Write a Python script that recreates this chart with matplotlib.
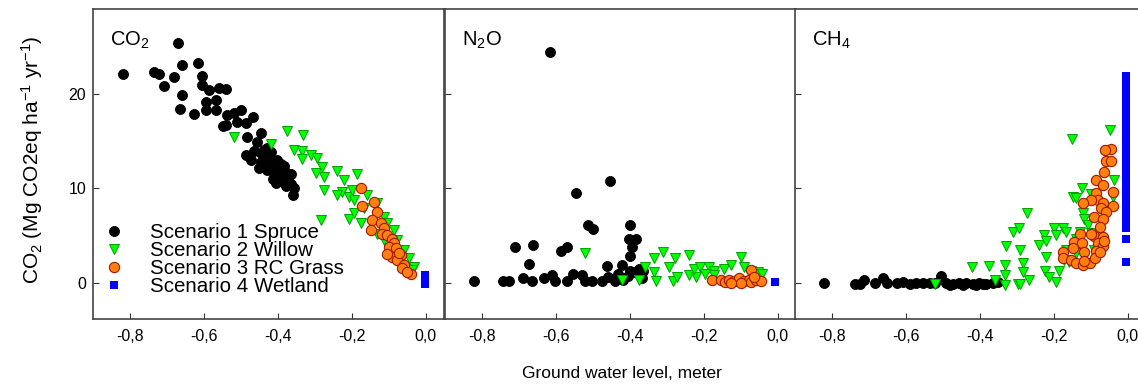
"""Greenhouse gas emissions vs ground water level, three gases side by side."""
import matplotlib.pyplot as plt

plt.rcParams["font.family"] = ["Liberation Sans", "DejaVu Sans"]
plt.rcParams["mathtext.fontset"] = "custom"
plt.rcParams["mathtext.rm"] = "Liberation Sans"
plt.rcParams["mathtext.it"] = "Liberation Sans"

SCENARIOS = ["Scenario 1 Spruce", "Scenario 2 Willow",
             "Scenario 3 RC Grass", "Scenario 4 Wetland"]
PANELS = ["CO$_2$", "N$_2$O", "CH$_4$"]

# ---- CO2 panel ----
co2_spruce_x = [-0.821, -0.672, -0.737, -0.722, -0.710, -0.681, -0.661, -0.659,
                -0.665, -0.627, -0.616, -0.607, -0.605, -0.586, -0.595, -0.568,
                -0.595, -0.568, -0.559, -0.541, -0.537, -0.519, -0.501, -0.541,
                -0.510, -0.487, -0.469, -0.483, -0.447, -0.456, -0.487, -0.465,
                -0.447, -0.451, -0.438, -0.429, -0.420, -0.411, -0.402, -0.397,
                -0.384, -0.375, -0.393, -0.366, -0.357, -0.361, -0.379, -0.429,
                -0.411, -0.474, -0.438, -0.548, -0.420, -0.400, -0.385, -0.372,
                -0.445, -0.415, -0.392, -0.365, -0.430, -0.405]
co2_spruce_y = [22.1, 25.3, 22.3, 22.1, 20.8, 21.8, 23.0, 19.9,
                18.4, 17.8, 23.2, 21.9, 20.9, 20.4, 19.1, 19.3,
                18.3, 18.3, 20.6, 20.5, 17.7, 17.9, 18.3, 16.7,
                17.0, 16.9, 17.5, 15.4, 15.8, 14.9, 13.5, 13.9,
                13.7, 12.1, 13.0, 13.3, 12.6, 12.3, 13.0, 11.6,
                11.9, 11.2, 10.9, 10.5, 10.0, 9.3, 10.2, 11.9,
                11.6, 13.0, 14.0, 16.6, 13.8, 12.0, 12.4, 11.0,
                12.8, 11.0, 12.6, 11.5, 14.3, 10.6]
co2_willow_x = [-0.519, -0.420, -0.377, -0.332, -0.357, -0.334, -0.334, -0.312,
                -0.294, -0.280, -0.298, -0.276, -0.240, -0.222, -0.186, -0.276,
                -0.226, -0.240, -0.208, -0.199, -0.195, -0.159, -0.285, -0.208,
                -0.195, -0.168, -0.176, -0.132, -0.114, -0.105, -0.086, -0.078,
                -0.059, -0.046, -0.032, -0.037, -0.114, -0.132]
co2_willow_y = [15.4, 14.7, 16.0, 15.6, 14.0, 13.9, 13.1, 13.5,
                13.2, 12.3, 11.6, 11.2, 11.8, 10.9, 11.5, 9.8,
                9.6, 9.3, 9.1, 9.8, 8.8, 9.3, 6.7, 6.8,
                7.4, 7.9, 6.3, 8.4, 7.0, 6.3, 5.6, 4.5,
                3.5, 2.6, 1.7, 1.4, 4.5, 5.2]
co2_grass_x = [-0.176, -0.141, -0.172, -0.132, -0.145, -0.122, -0.149, -0.114,
               -0.118, -0.105, -0.091, -0.086, -0.100, -0.082, -0.091, -0.068,
               -0.078, -0.059, -0.064, -0.041, -0.050, -0.105, -0.073]
co2_grass_y = [10.0, 8.6, 8.1, 7.5, 6.7, 6.3, 5.6, 5.8,
               5.2, 5.1, 4.7, 4.2, 3.8, 3.7, 2.8, 3.0,
               2.4, 1.9, 1.6, 1.0, 1.2, 3.1, 3.2]
co2_wet_x = [-0.003, -0.003, -0.003, -0.003, -0.003]
co2_wet_y = [-0.1, 0.2, 0.4, 0.6, 0.8]

# ---- N2O panel ----
n2o_spruce_x = [-0.616, -0.453, -0.545, -0.512, -0.500, -0.399, -0.401, -0.382,
                -0.394, -0.710, -0.661, -0.587, -0.569, -0.673, -0.399, -0.462,
                -0.421, -0.400, -0.375, -0.822, -0.742, -0.728, -0.690, -0.665,
                -0.633, -0.609, -0.603, -0.571, -0.553, -0.530, -0.521, -0.503,
                -0.476, -0.458, -0.440, -0.431, -0.417, -0.404, -0.386, -0.368,
                -0.364]
n2o_spruce_y = [24.4, 10.8, 9.5, 6.1, 5.7, 6.1, 4.6, 4.7,
                3.8, 3.8, 4.0, 3.4, 3.8, 2.0, 2.9, 1.8,
                1.9, 1.3, 1.5, 0.2, 0.2, 0.2, 0.5, 0.2,
                0.5, 0.8, 0.2, 0.2, 1.0, 0.8, 0.2, 0.2,
                0.2, 0.6, 0.2, 1.0, 0.3, 0.7, 1.2, 0.5,
                1.3]
n2o_willow_x = [-0.521, -0.310, -0.335, -0.278, -0.240, -0.294, -0.358, -0.335,
                -0.421, -0.376, -0.328, -0.282, -0.273, -0.240, -0.222, -0.227,
                -0.209, -0.186, -0.195, -0.172, -0.145, -0.127, -0.098, -0.091,
                -0.072, -0.054, -0.041, -0.172]
n2o_willow_y = [3.2, 3.3, 2.6, 2.6, 3.0, 1.7, 1.7, 1.2,
                0.3, 0.3, 0.2, 0.2, 0.6, 0.9, 0.6, 1.5,
                1.7, 1.7, 1.0, 1.3, 1.5, 1.9, 2.7, 1.7,
                1.3, 1.2, 1.0, 0.8]
n2o_grass_x = [-0.177, -0.154, -0.141, -0.132, -0.118, -0.104, -0.091, -0.077,
               -0.072, -0.072, -0.059, -0.045, -0.100, -0.127, -0.063]
n2o_grass_y = [0.3, 0.3, 0.1, 0.3, 0.2, 0.5, 0.2, 0.3,
               1.4, 0.1, 0.3, 0.2, 0.0, 0.0, 0.6]
n2o_wet_x = [-0.006]
n2o_wet_y = [0.1]

# ---- CH4 panel ----
ch4_spruce_x = [-0.822, -0.739, -0.712, -0.725, -0.684, -0.661, -0.652, -0.625,
                -0.607, -0.590, -0.572, -0.554, -0.536, -0.504, -0.491, -0.473,
                -0.455, -0.437, -0.419, -0.401, -0.383, -0.365, -0.351, -0.520,
                -0.480, -0.445, -0.410, -0.390]
ch4_spruce_y = [0.0, -0.1, 0.3, -0.1, 0.0, 0.5, 0.0, 0.0,
                0.1, -0.1, 0.0, 0.0, 0.0, 0.7, 0.0, -0.1,
                0.0, 0.0, -0.1, 0.0, -0.1, 0.0, 0.1, 0.0,
                -0.2, -0.2, -0.2, -0.1]
ch4_willow_x = [-0.520, -0.421, -0.376, -0.358, -0.333, -0.333, -0.333, -0.329,
                -0.309, -0.294, -0.273, -0.290, -0.284, -0.284, -0.297, -0.291,
                -0.266, -0.239, -0.225, -0.221, -0.224, -0.221, -0.212, -0.194,
                -0.198, -0.176, -0.194, -0.167, -0.185, -0.171, -0.167, -0.151,
                -0.149, -0.140, -0.123, -0.121, -0.117, -0.130, -0.108, -0.099,
                -0.099, -0.140, -0.140, -0.158, -0.048, -0.036, -0.040, -0.090]
ch4_willow_y = [-0.1, 1.7, 1.8, 0.3, 1.9, 0.8, -0.2, 3.9,
                5.4, 5.8, 7.4, 3.5, 2.1, 1.2, -0.1, -0.1,
                0.3, 4.0, 5.1, 4.4, 1.3, 2.7, 0.6, 0.1,
                5.8, 5.8, 5.1, 5.4, 1.3, 2.4, 3.5, 15.2,
                9.1, 9.0, 10.0, 7.4, 6.8, 5.4, 6.1, 5.3,
                9.4, 3.2, 4.6, 2.2, 16.2, 10.9, 9.1, 3.5]
ch4_grass_x = [-0.045, -0.060, -0.059, -0.045, -0.063, -0.085, -0.067, -0.085,
               -0.040, -0.081, -0.099, -0.121, -0.067, -0.040, -0.072, -0.058,
               -0.090, -0.067, -0.076, -0.090, -0.067, -0.099, -0.130, -0.144,
               -0.124, -0.081, -0.067, -0.148, -0.176, -0.117, -0.085, -0.176,
               -0.153, -0.139, -0.121, -0.103, -0.087, -0.076, -0.063, -0.117]
ch4_grass_y = [14.2, 14.0, 12.9, 12.9, 11.7, 10.9, 10.3, 9.5,
               9.6, 8.8, 8.8, 8.4, 8.5, 8.1, 7.9, 7.5,
               7.0, 6.8, 5.9, 5.0, 4.9, 5.2, 5.2, 4.3,
               4.2, 4.2, 3.9, 3.7, 3.3, 3.3, 3.4, 2.6,
               2.4, 2.1, 1.9, 2.1, 2.6, 3.3, 4.4, 2.3]
ch4_wet_y = [2.2, 4.6, 5.8, 6.3, 6.8, 7.2, 7.7, 8.2, 8.6, 9.1, 9.6, 10.0,
             10.5, 11.0, 11.4, 11.9, 12.4, 12.8, 13.3, 13.8, 14.2, 14.7,
             15.2, 15.6, 16.1, 16.6, 17.0, 17.5, 18.0, 18.4, 18.9, 19.4,
             19.8, 20.3, 20.8, 21.2, 21.7, 21.9]
ch4_wet_x = [-0.004] * len(ch4_wet_y)

DATA = [
    [(co2_spruce_x, co2_spruce_y), (co2_willow_x, co2_willow_y),
     (co2_grass_x, co2_grass_y), (co2_wet_x, co2_wet_y)],
    [(n2o_spruce_x, n2o_spruce_y), (n2o_willow_x, n2o_willow_y),
     (n2o_grass_x, n2o_grass_y), (n2o_wet_x, n2o_wet_y)],
    [(ch4_spruce_x, ch4_spruce_y), (ch4_willow_x, ch4_willow_y),
     (ch4_grass_x, ch4_grass_y), (ch4_wet_x, ch4_wet_y)],
]

STYLES = [
    dict(marker="o", ms=7.2, mfc="black", mec="black", mew=0.6),
    dict(marker="v", ms=7.5, mfc="#00ff00", mec="#00a000", mew=0.7),
    dict(marker="o", ms=7.4, mfc="#ff7f0f", mec="#a01800", mew=0.8),
    dict(marker="s", ms=6.0, mfc="#0000ff", mec="#0000ff", mew=0),
]

fig = plt.figure(figsize=(11.38, 3.86), dpi=100)
bottom, height = 0.1723, 0.8036
lefts = [0.0820, 0.3910, 0.6986]
width = 0.3085

axes = []
for i, (left, label) in enumerate(zip(lefts, PANELS)):
    ax = fig.add_axes([left, bottom, width, height])
    axes.append(ax)
    # wetland drawn first so the others sit on top (as in the original)
    for j in [3, 0, 1, 2]:
        xs, ys = DATA[i][j]
        ax.plot(xs, ys, ls="none", label=SCENARIOS[j], **STYLES[j])
    ax.set_xlim(-0.9, 0.05)
    ax.set_ylim(-3.85, 28.9)
    ax.set_xticks([-0.8, -0.6, -0.4, -0.2, 0.0])
    ax.set_xticklabels(["-0,8", "-0,6", "-0,4", "-0,2", "0,0"])
    ax.set_yticks([0, 10, 20])
    ax.tick_params(direction="in", length=4, width=0.8, color="#333333",
                   labelsize=11.5, pad=7)
    ax.tick_params(axis="y", pad=5)
    if i > 0:
        ax.tick_params(axis="y", labelleft=False)
    for sp in ax.spines.values():
        sp.set_color("#444444")
        sp.set_linewidth(1.2)
    ax.text(0.048, 0.90, label, transform=ax.transAxes, fontsize=14.5,
            ha="left", va="center")

# legend in the first panel, order spruce -> wetland
h, l = axes[0].get_legend_handles_labels()
handle_map = dict(zip(l, h))
axes[0].legend([handle_map[s] for s in SCENARIOS], SCENARIOS,
               loc="lower left", bbox_to_anchor=(-0.01, 0.035),
               frameon=False, fontsize=14.8, labelspacing=-0.04,
               handletextpad=1.15, handlelength=1.2, borderaxespad=0.2)

fig.text(0.028, 1 - 160 / 386,
         "CO$_2$ (Mg CO2eq ha$^{-1}$ yr$^{-1}$)",
         rotation=90, ha="center", va="center", fontsize=15)
fig.text(622 / 1138, 1 - 373 / 386, "Ground water level, meter",
         ha="center", va="center", fontsize=12.5)

fig.savefig("out.png", dpi=100)
